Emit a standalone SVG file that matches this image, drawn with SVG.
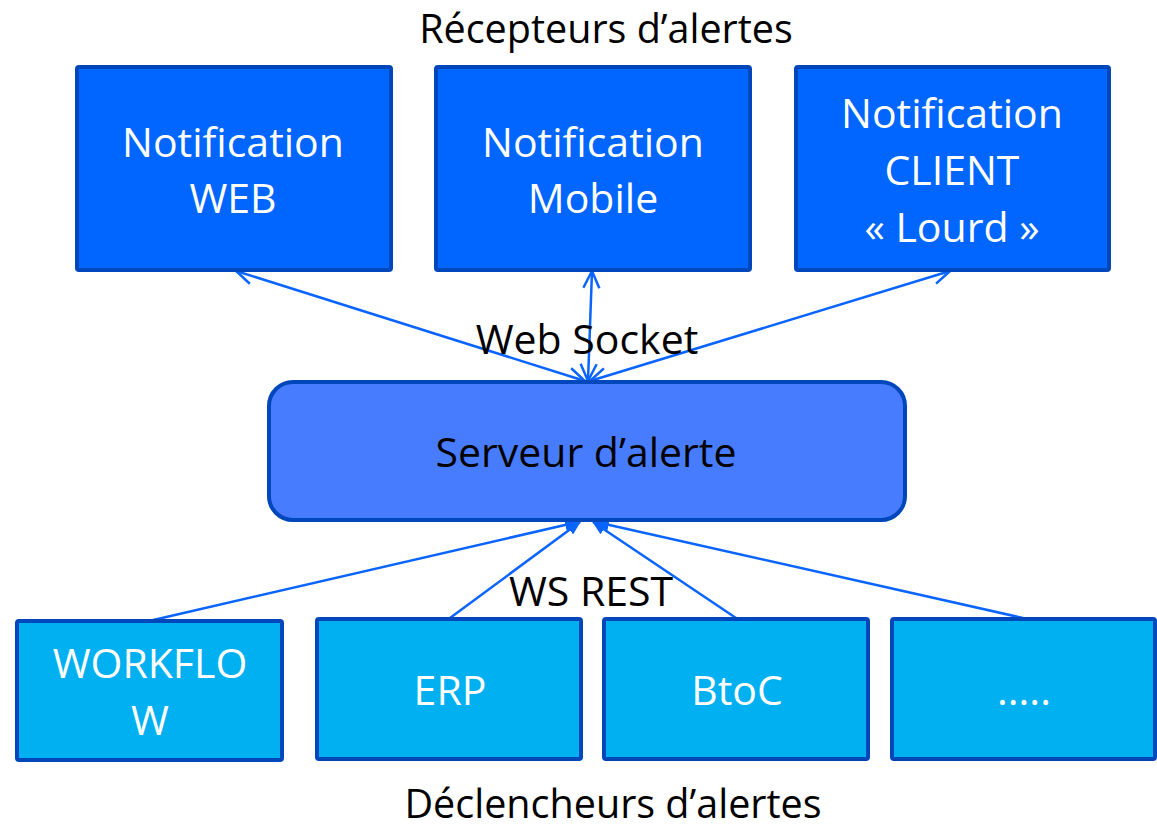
<svg xmlns="http://www.w3.org/2000/svg" width="1157" height="830" viewBox="0 0 1157 830">
<style>
.top{fill:#0066FF;stroke:#0047BB;stroke-width:4}
.bot{fill:#00B0F0;stroke:#0047BB;stroke-width:4}
.srv{fill:#487CFF;stroke:#0047BB;stroke-width:4}
text{font-family:"Open Sans","Noto Sans",sans-serif;font-size:41px;text-anchor:middle}
.w{fill:#FFFFFF}
.k{fill:#000000}
.t{font-size:39.5px}
.c{stroke:#0A64FF;stroke-width:2.5;fill:none}
</style>
<defs>
<marker id="open" viewBox="0 0 20 20" refX="19" refY="10" markerWidth="20" markerHeight="20" markerUnits="userSpaceOnUse" orient="auto-start-reverse">
<path d="M2,2 L19,10 L2,18" fill="none" stroke="#0A64FF" stroke-width="2.5"/>
</marker>
<marker id="fill" viewBox="0 0 14 12" refX="13" refY="6" markerWidth="14" markerHeight="12" markerUnits="userSpaceOnUse" orient="auto">
<path d="M0,0 L14,6 L0,12 Z" fill="#0A64FF"/>
</marker>
</defs>
<text class="k t" x="606" y="43">Récepteurs d’alertes</text>
<text class="k t" x="613" y="818">Déclencheurs d’alertes</text>
<g id="connectors">
<line class="c" x1="236" y1="271" x2="585" y2="381" marker-start="url(#open)" marker-end="url(#open)"/>
<line class="c" x1="592" y1="271" x2="588" y2="381" marker-start="url(#open)" marker-end="url(#open)"/>
<line class="c" x1="950" y1="271" x2="590" y2="381" marker-start="url(#open)" marker-end="url(#open)"/>
<line class="c" x1="149" y1="621" x2="578" y2="522" marker-end="url(#fill)"/>
<line class="c" x1="450" y1="618" x2="580" y2="522" marker-end="url(#fill)"/>
<line class="c" x1="736" y1="618" x2="593" y2="522" marker-end="url(#fill)"/>
<line class="c" x1="1023" y1="618" x2="596" y2="522" marker-end="url(#fill)"/>
<text class="k" x="587" y="354">Web Socket</text>
<text class="k" x="591" y="606">WS REST</text>
</g>
<g id="notif-web">
<rect class="top" x="77" y="67" width="314" height="203" rx="2"/>
<text class="w" x="233" y="157">Notification</text>
<text class="w" x="233" y="213">WEB</text>
</g>
<g id="notif-mobile">
<rect class="top" x="436" y="67" width="314" height="203" rx="2"/>
<text class="w" x="593" y="157">Notification</text>
<text class="w" x="593" y="213">Mobile</text>
</g>
<g id="notif-client">
<rect class="top" x="796" y="67" width="313" height="203" rx="2"/>
<text class="w" x="952" y="128">Notification</text>
<text class="w" x="952" y="185">CLIENT</text>
<text class="w" x="952" y="242">« Lourd »</text>
</g>
<g id="serveur">
<rect class="srv" x="269" y="382" width="636" height="138" rx="24"/>
<text class="k" x="586" y="467">Serveur d’alerte</text>
</g>
<g id="workflow">
<rect class="bot" x="17" y="621" width="265" height="139" rx="2"/>
<text class="w" x="150" y="678">WORKFLO</text>
<text class="w" x="150" y="735">W</text>
</g>
<g id="erp">
<rect class="bot" x="317" y="619" width="264" height="140" rx="2"/>
<text class="w" x="450" y="705">ERP</text>
</g>
<g id="btoc">
<rect class="bot" x="604" y="619" width="264" height="140" rx="2"/>
<text class="w" x="737" y="705">BtoC</text>
</g>
<g id="etc">
<rect class="bot" x="892" y="619" width="263" height="140" rx="2"/>
<text class="w" x="1024" y="705">.....</text>
</g>
</svg>
